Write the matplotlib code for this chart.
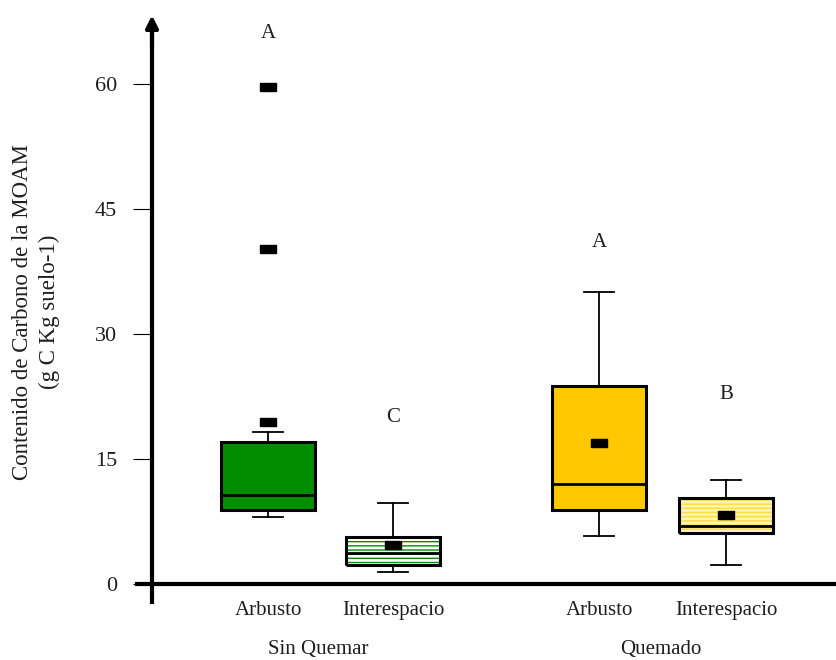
import numpy as np
import matplotlib
matplotlib.use("Agg")
import matplotlib.pyplot as plt
from matplotlib.patches import PathPatch
from matplotlib.path import Path

# ---------------- data ----------------
categories = ["Arbusto", "Interespacio", "Arbusto", "Interespacio"]
groups = ["Sin Quemar", "Quemado"]
q1 = [8.9, 2.3, 8.9, 6.1]
median = [10.7, 3.7, 12.0, 7.0]
q3 = [17.0, 5.6, 23.8, 10.3]
whislo = [8.0, 1.4, 5.8, 2.3]
whishi = [18.2, 9.7, 35.0, 12.5]
means = [np.nan, 4.7, 16.9, 8.3]
fliers = [[19.4, 40.2, 59.7], [], [], []]
letters = ["A", "C", "A", "B"]
letter_y = [66.1, 20.0, 41.0, 22.7]
yticks = [0, 15, 30, 45, 60]

# ---------------- layout ----------------
positions = [1.0, 2.0, 3.648, 4.664]
group_x = [1.4, 4.14]
face = ["#008E00", "#008E00", "#FFC800", "#FFD84A"]
stripe = [None, "white", None, "#FFF3B8"]

plt.rcParams["font.family"] = ["Liberation Serif", "DejaVu Serif"]
plt.rcParams["hatch.linewidth"] = 2.0
txtc = "#1e1e1e"

fig = plt.figure(figsize=(8.36, 6.6), dpi=100)
ax = fig.add_axes([152 / 836, 76 / 660, 684 / 836, 569 / 660])
ax.set_xlim(0.072, 5.544)
ax.set_ylim(0, 68.3)

stats = []
for i in range(4):
    stats.append(dict(med=median[i], q1=q1[i], q3=q3[i], whislo=whislo[i],
                      whishi=whishi[i], fliers=fliers[i], label=categories[i]))

rect = [(-1, -0.5), (1, -0.5), (1, 0.5), (-1, 0.5), (-1, -0.5)]
bp = ax.bxp(stats, positions=positions, widths=0.75, capwidths=0.24,
            patch_artist=True, showfliers=True,
            boxprops=dict(linewidth=2.2, edgecolor="black"),
            whiskerprops=dict(linewidth=1.3, color="black"),
            capprops=dict(linewidth=1.3, color="black"),
            medianprops=dict(linewidth=2.0, color="black", zorder=4),
            flierprops=dict(marker=rect, markersize=12, markerfacecolor="black",
                            markeredgecolor="black", linestyle="none"))

for i, b in enumerate(bp["boxes"]):
    if stripe[i] is None:
        b.set_facecolor(face[i])
    else:
        b.set_facecolor(face[i])
        b.set_edgecolor(stripe[i])
        b.set_hatch("----")
        b.set_linewidth(0)
        outline = PathPatch(Path(b.get_path().vertices), facecolor="none",
                            edgecolor="black", linewidth=2.2, zorder=3)
        ax.add_patch(outline)

ax.plot(positions, means, linestyle="none", marker=rect, markersize=12,
        markerfacecolor="black", markeredgecolor="black", zorder=5)

for x, t, y in zip(positions, letters, letter_y):
    ax.text(x, y, t, ha="center", va="center", fontsize=15, color=txtc)

# axes lines
for s in ax.spines.values():
    s.set_visible(False)
x0 = 0.072
ax.plot([-0.048, 5.544], [0, 0], color="black", lw=3, clip_on=False, zorder=6)
ax.plot([x0, x0], [-2.16, 67.0], color="black", lw=3, clip_on=False, zorder=6)
ax.annotate("", xy=(x0, 68.6), xytext=(x0, 64.0),
            arrowprops=dict(arrowstyle="-|>", color="black", lw=3,
                            mutation_scale=18), annotation_clip=False)

ax.set_yticks(yticks)
ax.set_yticklabels([str(v) for v in yticks], fontsize=16, color=txtc)
ax.tick_params(axis="y", length=14, width=0.8, pad=11, direction="out")
ax.set_xticks(positions)
ax.set_xticklabels(categories, fontsize=15, color=txtc)
ax.tick_params(axis="x", length=0, pad=12)

for gx, g in zip(group_x, groups):
    ax.text(gx, -0.115, g, transform=ax.get_xaxis_transform(), ha="center",
            va="center", fontsize=15, color=txtc)

fig.text(36 / 836, 1 - 312 / 660,
         "Contenido de Carbono de la MOAM\n(g C Kg suelo-1)",
         rotation=90, ha="center", va="center", fontsize=16.5, color=txtc,
         linespacing=1.35, multialignment="center")

fig.savefig("out.png", dpi=100)
